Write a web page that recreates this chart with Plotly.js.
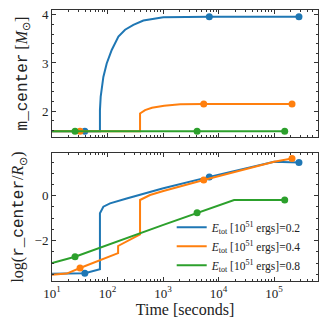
<!DOCTYPE html>
<html>
<head>
<meta charset="utf-8">
<script src="https://cdn.plot.ly/plotly-3.0.1.min.js"></script>
<style>
  html, body { margin: 0; padding: 0; background: #fff; }
  #chart { width: 328px; height: 328px; }
</style>
</head>
<body>
<div id="chart"></div>
<script>
// m_center (top panel), E_tot = 0.2 / 0.4 / 0.8
const tMass02 = [10, 73, 73, 75.3, 84.1, 96.6, 119, 157, 207, 292, 442, 769, 1010, 6800, 280000];
const mass02  = [1.58, 1.58, 2.02, 2.30, 2.71, 2.99, 3.27, 3.55, 3.69, 3.79, 3.88, 3.93, 3.95, 3.96, 3.96];
const tMass04 = [10, 385, 385, 474, 631, 1047, 2042, 5400, 210000];
const mass04  = [1.58, 1.58, 1.95, 2.02, 2.07, 2.11, 2.14, 2.15, 2.15];
const tMass08 = [10, 4100, 155000];
const mass08  = [1.58, 1.58, 1.58];

// log(r_center) (bottom panel)
const tRad02 = [10, 39, 73, 73, 84.1, 111, 221, 1012, 6800, 100000, 280000];
const rad02  = [-3.48, -3.45, -3.27, -0.78, -0.49, -0.34, -0.12, 0.33, 0.84, 1.51, 1.48];
const tRad04 = [10, 18.4, 32, 73, 155, 155, 385, 385, 583, 1012, 5400, 100000, 210000];
const rad04  = [-3.52, -3.47, -3.22, -2.86, -2.56, -2.24, -1.72, -0.19, 0.03, 0.21, 0.70, 1.51, 1.66];
const tRad08 = [10, 26, 1012, 4100, 19000, 155000];
const rad08  = [-3.0, -2.72, -1.30, -0.76, -0.19, -0.19];

// marked snapshots
const tDots02 = [39, 6800, 280000];
const tDots04 = [32, 5400, 210000];
const tDots08 = [26, 4100, 155000];
const massDots02 = [1.58, 3.96, 3.96];
const massDots04 = [1.58, 2.15, 2.15];
const massDots08 = [1.58, 1.58, 1.58];
const radDots02 = [-3.45, 0.84, 1.48];
const radDots04 = [-3.22, 0.70, 1.66];
const radDots08 = [-2.72, -0.76, -0.19];

const energies = ['0.2', '0.4', '0.8'];
const colors = ['#1f77b4', '#ff7f0e', '#2ca02c'];
const xTickVals = [10, 100, 1000, 10000, 100000];
const xTickText = ['10<sup>1</sup>', '10<sup>2</sup>', '10<sup>3</sup>', '10<sup>4</sup>', '10<sup>5</sup>'];

const minorX = [];
for (let d = 1; d <= 5; d++) {
  for (let m = 2; m <= 9; m++) minorX.push(m * Math.pow(10, d));
}

const massT = [tMass02, tMass04, tMass08], massY = [mass02, mass04, mass08];
const radT = [tRad02, tRad04, tRad08], radY = [rad02, rad04, rad08];
const dotT = [tDots02, tDots04, tDots08];
const massDots = [massDots02, massDots04, massDots08];
const radDots = [radDots02, radDots04, radDots08];

const traces = [];
for (let i = 0; i < 3; i++) {
  traces.push({
    x: massT[i], y: massY[i], xaxis: 'x2', yaxis: 'y2',
    mode: 'lines', line: {color: colors[i], width: 2}, showlegend: false
  });
  traces.push({
    x: dotT[i], y: massDots[i], xaxis: 'x2', yaxis: 'y2',
    mode: 'markers', marker: {color: colors[i], size: 7}, showlegend: false
  });
}
for (let i = 0; i < 3; i++) {
  traces.push({
    x: radT[i], y: radY[i], xaxis: 'x', yaxis: 'y',
    mode: 'lines', line: {color: colors[i], width: 2},
    name: '<i>E</i><sub>tot</sub> [10<sup>51</sup> ergs]=' + energies[i]
  });
  traces.push({
    x: dotT[i], y: radDots[i], xaxis: 'x', yaxis: 'y',
    mode: 'markers', marker: {color: colors[i], size: 7}, showlegend: false
  });
}

const frame = {
  showline: true, linecolor: '#333', linewidth: 1, mirror: 'allticks',
  ticks: 'inside', ticklen: 4, tickcolor: '#333', showgrid: false, zeroline: false
};
const logX = Object.assign({}, frame, {
  type: 'log', range: [1, 5.79],
  tickmode: 'array', tickvals: xTickVals, ticktext: xTickText,
  minor: {tickmode: 'array', tickvals: minorX, ticks: 'inside', ticklen: 2, tickcolor: '#333', showgrid: false}
});

const layout = {
  width: 328, height: 328,
  margin: {l: 52, r: 10, t: 10, b: 47},
  paper_bgcolor: '#fff', plot_bgcolor: '#fff',
  font: {family: 'Liberation Serif, serif', size: 13, color: '#222'},
  xaxis: Object.assign({}, logX, {
    anchor: 'y', domain: [0, 1],
    title: {text: 'Time [seconds]', standoff: 3}
  }),
  xaxis2: Object.assign({}, logX, {
    anchor: 'y2', domain: [0, 1], matches: 'x', showticklabels: false
  }),
  yaxis: Object.assign({}, frame, {
    anchor: 'x', domain: [0, 0.472], range: [-3.8, 1.9], dtick: 2,
    minor: {dtick: 0.5, ticks: 'inside', ticklen: 2, tickcolor: '#333', showgrid: false},
    title: {text: 'log(<span style="font-family:Liberation Mono">r_center</span>/<i>R</i><sub>⊙</sub>)', standoff: 6}
  }),
  yaxis2: Object.assign({}, frame, {
    anchor: 'x2', domain: [0.531, 1], range: [1.46, 4.1], dtick: 1,
    minor: {dtick: 0.2, ticks: 'inside', ticklen: 2, tickcolor: '#333', showgrid: false},
    title: {text: '<span style="font-family:Liberation Mono">m_center</span> [<i>M</i><sub>⊙</sub>]', standoff: 10}
  }),
  legend: {
    x: 0.45, y: 0.005, xanchor: 'left', yanchor: 'bottom',
    bgcolor: 'rgba(255,255,255,0)', font: {size: 11.5},
    tracegroupgap: 0, itemwidth: 30
  }
};

Plotly.newPlot('chart', traces, layout, {displayModeBar: false, staticPlot: true});
</script>
</body>
</html>
